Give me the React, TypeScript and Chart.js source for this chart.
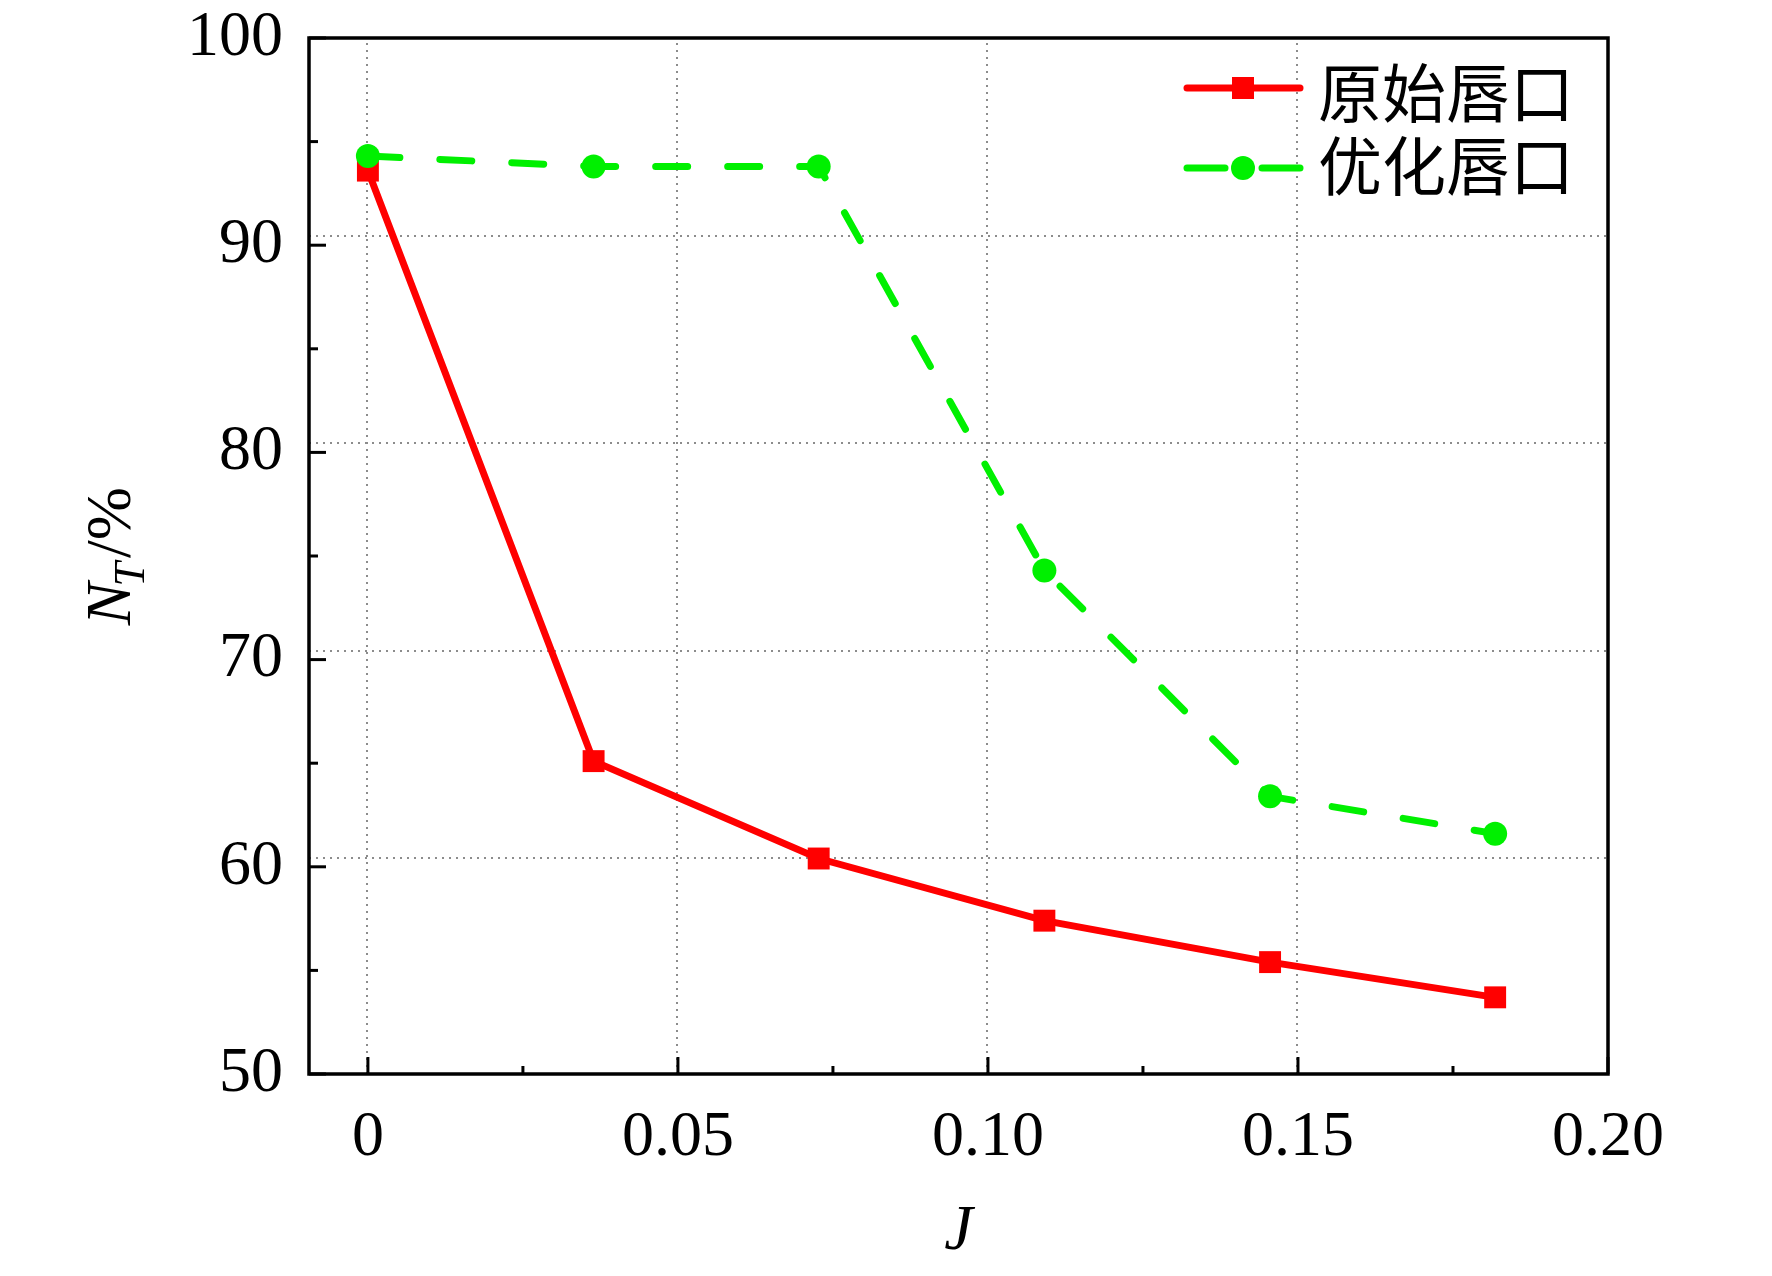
import { useEffect, useRef } from 'react';
import { Chart, registerables } from 'chart.js';
import type { Plugin } from 'chart.js';

Chart.register(...registerables);

// data
const jValues = [0, 0.0364, 0.0727, 0.1091, 0.1455, 0.1818];
const originalLip = [93.6, 65.1, 60.4, 57.4, 55.4, 53.7];
const optimizedLip = [94.3, 93.8, 93.8, 74.3, 63.4, 61.6];
const seriesNames = ['原始唇口', '优化唇口'];

const xTicks = [0, 0.05, 0.1, 0.15, 0.2];
const xTickLabels = ['0', '0.05', '0.10', '0.15', '0.20'];
const xMinorTicks = [0.025, 0.075, 0.125, 0.175];
const yTicks = [50, 60, 70, 80, 90, 100];
const yMinorTicks = [55, 65, 75, 85, 95];
const xTitle = 'J';
const yTitleMain = 'N';
const yTitleSub = 'T';
const yTitleTail = '/%';

const RED = '#ff0000';
const GREEN = '#00f000';
const SERIF = '"Liberation Serif", "Times New Roman", serif';
const CJK = '"Noto Sans CJK SC", sans-serif';

const framePlugin: Plugin<'line'> = {
  id: 'frame',
  beforeDatasetsDraw(chart) {
    const { ctx, chartArea: a, scales } = chart;
    ctx.save();
    ctx.strokeStyle = '#8c8c8c';
    ctx.lineWidth = 2;
    ctx.setLineDash([2, 5]);
    // the original draws its horizontal grid a little above the ticks
    for (const v of yTicks.slice(1, -1)) {
      const y = Math.round(scales.y.getPixelForValue(v)) - 9;
      ctx.beginPath();
      ctx.moveTo(a.left, y);
      ctx.lineTo(a.right, y);
      ctx.stroke();
    }
    for (const v of xTicks.slice(0, -1)) {
      const x = Math.round(scales.x.getPixelForValue(v)) - 1;
      ctx.beginPath();
      ctx.moveTo(x, a.top + 5);
      ctx.lineTo(x, a.bottom);
      ctx.stroke();
    }
    ctx.restore();
  },
  afterDraw(chart) {
    const { ctx, chartArea: a, scales } = chart;
    ctx.save();
    ctx.strokeStyle = '#000';
    ctx.lineWidth = 3.5;
    ctx.strokeRect(a.left, a.top, a.right - a.left, a.bottom - a.top);

    // inward ticks
    ctx.lineWidth = 3;
    const seg = (x1: number, y1: number, x2: number, y2: number) => {
      ctx.beginPath();
      ctx.moveTo(x1, y1);
      ctx.lineTo(x2, y2);
      ctx.stroke();
    };
    for (const v of yTicks) {
      const y = scales.y.getPixelForValue(v);
      seg(a.left, y, a.left + 17, y);
    }
    for (const v of yMinorTicks) {
      const y = scales.y.getPixelForValue(v);
      seg(a.left, y, a.left + 9, y);
    }
    for (const v of xTicks) {
      const x = scales.x.getPixelForValue(v);
      seg(x, a.bottom, x, a.bottom - 17);
    }
    for (const v of xMinorTicks) {
      const x = scales.x.getPixelForValue(v);
      seg(x, a.bottom, x, a.bottom - 8);
    }

    // axis titles
    ctx.fillStyle = '#000';
    ctx.font = `italic 64px ${SERIF}`;
    ctx.textAlign = 'center';
    ctx.textBaseline = 'alphabetic';
    ctx.fillText(xTitle, (a.left + a.right) / 2, 1249);

    ctx.save();
    ctx.translate(130, (a.top + a.bottom) / 2);
    ctx.rotate(-Math.PI / 2);
    ctx.textAlign = 'left';
    ctx.font = `italic 64px ${SERIF}`;
    const wN = ctx.measureText(yTitleMain).width;
    ctx.font = `italic 44px ${SERIF}`;
    const wT = ctx.measureText(yTitleSub).width;
    ctx.font = `64px ${SERIF}`;
    const wTail = ctx.measureText(yTitleTail).width;
    let x0 = -(wN + wT + wTail) / 2;
    ctx.font = `italic 64px ${SERIF}`;
    ctx.fillText(yTitleMain, x0, 0);
    x0 += wN - 4;
    ctx.font = `italic 44px ${SERIF}`;
    ctx.fillText(yTitleSub, x0, 14);
    x0 += wT + 4;
    ctx.font = `64px ${SERIF}`;
    ctx.fillText(yTitleTail, x0, 0);
    ctx.restore();

    // legend
    const lx1 = 1187;
    const lx2 = 1300;
    const mx = 1243;
    const rows = [88, 168];
    ctx.lineCap = 'round';
    ctx.lineWidth = 7;
    ctx.strokeStyle = RED;
    seg(lx1, rows[0], lx2, rows[0]);
    ctx.fillStyle = RED;
    ctx.fillRect(mx - 11, rows[0] - 11, 22, 22);

    ctx.strokeStyle = GREEN;
    seg(lx1, rows[1], 1225, rows[1]);
    seg(1262, rows[1], lx2, rows[1]);
    ctx.fillStyle = GREEN;
    ctx.beginPath();
    ctx.arc(mx, rows[1], 12, 0, Math.PI * 2);
    ctx.fill();

    ctx.fillStyle = '#000';
    ctx.font = `64px ${CJK}`;
    ctx.textAlign = 'left';
    ctx.textBaseline = 'middle';
    ctx.fillText(seriesNames[0], 1318, rows[0] + 5);
    ctx.fillText(seriesNames[1], 1318, rows[1] - 2);
    ctx.restore();
  },
};

export default function App() {
  const canvasRef = useRef<HTMLCanvasElement>(null);
  const chartRef = useRef<Chart<'line'> | null>(null);

  useEffect(() => {
    document.body.style.margin = '0';
    const canvas = canvasRef.current;
    if (!canvas) return;
    if (chartRef.current) chartRef.current.destroy();

    chartRef.current = new Chart(canvas, {
      type: 'line',
      data: {
        datasets: [
          {
            label: seriesNames[0],
            data: jValues.map((x, i) => ({ x, y: originalLip[i] })),
            borderColor: RED,
            backgroundColor: RED,
            borderWidth: 7,
            pointStyle: 'rect',
            pointRadius: 15.5,
            pointBorderWidth: 0,
            pointBackgroundColor: RED,
            tension: 0,
            order: 2,
          },
          {
            label: seriesNames[1],
            data: jValues.map((x, i) => ({ x, y: optimizedLip[i] })),
            borderColor: GREEN,
            backgroundColor: GREEN,
            borderWidth: 7,
            borderDash: [32, 40],
            borderCapStyle: 'round',
            pointStyle: 'circle',
            pointRadius: 12,
            pointBorderWidth: 0,
            pointBackgroundColor: GREEN,
            tension: 0,
            order: 1,
          },
        ],
      },
      options: {
        responsive: false,
        devicePixelRatio: 1,
        animation: false,
        events: [],
        layout: { padding: { top: 38, right: 164, left: 0, bottom: 0 } },
        plugins: {
          legend: { display: false },
          tooltip: { enabled: false },
        },
        scales: {
          x: {
            type: 'linear',
            min: -0.0095,
            max: 0.2,
            grid: { display: false, drawTicks: false, tickLength: 0 },
            border: { display: false },
            afterBuildTicks: (s) => {
              s.ticks = xTicks.map((value) => ({ value }));
            },
            afterFit: (s) => {
              s.height = 202;
              s.paddingLeft = 0;
              s.paddingRight = 0;
            },
            ticks: {
              color: '#000',
              padding: 26,
              maxRotation: 0,
              autoSkip: false,
              font: { family: SERIF, size: 64 },
              callback: (_v, i) => xTickLabels[i],
            },
          },
          y: {
            type: 'linear',
            min: 50,
            max: 100,
            grid: { display: false, drawTicks: false, tickLength: 0 },
            border: { display: false },
            afterBuildTicks: (s) => {
              s.ticks = yTicks.map((value) => ({ value }));
            },
            afterFit: (s) => {
              s.width = 309;
              s.paddingTop = 0;
              s.paddingBottom = 0;
            },
            ticks: {
              color: '#000',
              padding: 26,
              autoSkip: false,
              font: { family: SERIF, size: 64 },
              callback: (v) => String(v),
            },
          },
        },
      },
      plugins: [framePlugin],
    });

    return () => {
      if (chartRef.current) {
        chartRef.current.destroy();
        chartRef.current = null;
      }
    };
  }, []);

  return (
    <div style={{ width: 1772, height: 1276, background: '#fff' }}>
      <canvas ref={canvasRef} width={1772} height={1276} style={{ width: 1772, height: 1276 }} />
    </div>
  );
}
